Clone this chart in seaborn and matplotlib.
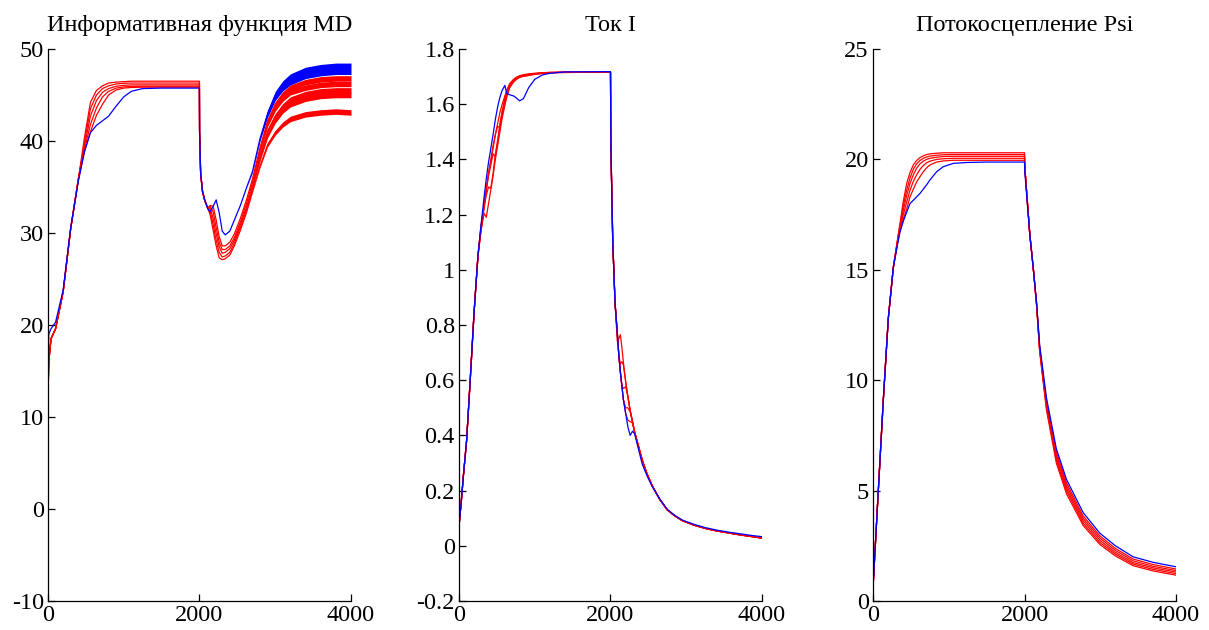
import numpy as np
import pandas as pd
import matplotlib
matplotlib.use("Agg")
import matplotlib.pyplot as plt
import seaborn as sns

# ---------------- data ----------------
titles = ["Информативная функция MD", "Ток I", "Потокосцепление Psi"]

# Panel 1: MD
md_x = [0, 10, 40, 100, 200, 300, 400, 480, 560, 640,
        720, 800, 900, 1000, 1100, 1250, 1500, 1999, 2001, 2015,
        2040, 2070, 2110, 2140, 2180, 2220, 2260, 2300, 2340, 2400,
        2460, 2540, 2620, 2700, 2800, 2900, 3000, 3100, 3200, 3400,
        3600, 3800, 4000]
md_blue = [12.0, 19.0, 19.6, 20.3, 23.8, 30.6, 35.6, 38.8, 40.9, 41.7,
           42.2, 42.7, 43.8, 44.8, 45.4, 45.7, 45.75, 45.75, 41.0, 36.5,
           34.5, 33.6, 32.6, 32.3, 32.9, 33.6, 32.2, 30.2, 29.8, 30.2,
           31.4, 33.0, 34.9, 36.7, 40.3, 43.0, 44.9, 46.0, 46.7, 47.4,
           47.7, 47.85, 47.85]
md_red_rows = [
    [12.0] * 5, [16.0] * 5, [18.5] * 5, [19.6] * 5, [23.6] * 5, [30.5] * 5, [35.8] * 5,
    [40.3, 39.8, 39.4, 39.0, 38.8],
    [44.2, 43.5, 42.7, 41.8, 41.0],
    [45.5, 45.0, 44.4, 43.6, 42.8],
    [46.0, 45.7, 45.3, 44.8, 44.0],
    [46.3, 46.0, 45.7, 45.4, 45.0],
    [46.4, 46.2, 45.95, 45.75, 45.55],
    [46.45, 46.27, 46.05, 45.88, 45.75],
    [46.5, 46.3, 46.1, 45.93, 45.82],
    [46.5, 46.3, 46.1, 45.95, 45.85],
    [46.5, 46.3, 46.1, 45.95, 45.85],
    [46.5, 46.3, 46.1, 45.95, 45.85],
    [41.0] * 5, [36.5] * 5, [34.5] * 5, [33.5] * 5, [32.7] * 5,
    [33.0, 32.9, 32.7, 32.4, 32.0],
    [32.9, 32.3, 31.6, 30.9, 30.3],
    [31.4, 30.6, 29.9, 29.2, 28.6],
    [29.6, 29.0, 28.5, 27.9, 27.3],
    [28.6, 28.2, 27.8, 27.4, 27.1],
    [28.6, 28.2, 27.9, 27.5, 27.2],
    [29.0, 28.6, 28.3, 27.9, 27.6],
    [29.9, 29.5, 29.2, 28.9, 28.6],
    [31.6, 31.2, 30.9, 30.6, 30.3],
    [33.6, 33.2, 32.8, 32.5, 32.2],
    [35.9, 35.5, 35.1, 34.8, 34.5],
    [39.3, 38.9, 38.4, 38.0, 37.3],
    [42.2, 41.8, 41.1, 40.6, 39.6],
    [44.0, 43.5, 42.7, 42.2, 40.9],
    [45.1, 44.6, 43.8, 43.3, 41.8],
    [45.8, 45.3, 44.5, 44.0, 42.4],
    [46.4, 45.8, 45.1, 44.6, 42.9],
    [46.7, 46.1, 45.4, 44.9, 43.1],
    [46.8, 46.2, 45.5, 45.0, 43.2],
    [46.8, 46.2, 45.5, 45.0, 43.1],
]
# half-width of the noisy band (end of the run)
md_noise_blue = [0] * 33 + [0.1, 0.25, 0.4, 0.5, 0.55, 0.6, 0.62, 0.62, 0.62, 0.62]
md_noise_red = [0] * 33 + [0.06, 0.15, 0.22, 0.26, 0.28, 0.3, 0.3, 0.3, 0.3, 0.3]

# Panel 2: current I
i_x = [0, 30, 60, 100, 150, 200, 250, 290, 330, 360,
       390, 420, 450, 480, 510, 540, 570, 605, 630, 670,
       720, 760, 800, 850, 920, 1000, 1100, 1200, 1400, 2000,
       2005, 2030, 2060, 2090, 2110, 2130, 2150, 2170, 2200, 2230,
       2260, 2290, 2320, 2360, 2420, 2480, 2550, 2650, 2750, 2850,
       2950, 3100, 3250, 3400, 3550, 3700, 3850, 4000]
i_blue = [0.07, 0.16, 0.26, 0.38, 0.61, 0.85, 1.05, 1.16, 1.26, 1.33,
          1.39, 1.44, 1.49, 1.545, 1.59, 1.625, 1.65, 1.668, 1.640, 1.634,
          1.630, 1.622, 1.612, 1.620, 1.660, 1.690, 1.706, 1.712, 1.717, 1.718,
          1.45, 1.10, 0.88, 0.77, 0.69, 0.63, 0.58, 0.53, 0.48, 0.43,
          0.40, 0.415, 0.405, 0.36, 0.295, 0.255, 0.215, 0.17, 0.132, 0.11,
          0.093, 0.078, 0.066, 0.057, 0.05, 0.044, 0.038, 0.033]
i_red_rows = [
    [0.07] * 5, [0.16] * 5, [0.26] * 5, [0.38] * 5, [0.61] * 5, [0.85] * 5, [1.05] * 5,
    [1.14, 1.14, 1.15, 1.15, 1.16],
    [1.205, 1.22, 1.23, 1.23, 1.23],
    [1.19, 1.27, 1.29, 1.29, 1.29],
    [1.24, 1.30, 1.34, 1.35, 1.35],
    [1.29, 1.295, 1.38, 1.40, 1.39],
    [1.34, 1.35, 1.42, 1.45, 1.44],
    [1.40, 1.42, 1.41, 1.49, 1.49],
    [1.45, 1.47, 1.46, 1.52, 1.53],
    [1.50, 1.52, 1.53, 1.515, 1.57],
    [1.55, 1.56, 1.575, 1.57, 1.60],
    [1.595, 1.605, 1.615, 1.62, 1.63],
    [1.625, 1.635, 1.64, 1.645, 1.65],
    [1.66, 1.665, 1.668, 1.672, 1.675],
    [1.680, 1.684, 1.686, 1.688, 1.690],
    [1.690, 1.693, 1.695, 1.697, 1.698],
    [1.697, 1.699, 1.701, 1.702, 1.703],
    [1.701, 1.702, 1.704, 1.705, 1.707],
    [1.704, 1.705, 1.707, 1.708, 1.710],
    [1.708, 1.709, 1.710, 1.711, 1.712],
    [1.711, 1.712, 1.713, 1.714, 1.714],
    [1.714, 1.714, 1.715, 1.715, 1.715],
    [1.715, 1.715, 1.716, 1.716, 1.716],
    [1.716] * 5,
    [1.45] * 5, [1.10] * 5, [0.88] * 5,
    [0.74, 0.77, 0.77, 0.77, 0.77],
    [0.75, 0.69, 0.69, 0.69, 0.69],
    [0.765, 0.66, 0.63, 0.63, 0.63],
    [0.72, 0.667, 0.58, 0.58, 0.58],
    [0.665, 0.655, 0.57, 0.53, 0.53],
    [0.595, 0.595, 0.576, 0.50, 0.48],
    [0.54, 0.54, 0.54, 0.50, 0.455],
    [0.49, 0.49, 0.49, 0.485, 0.45],
    [0.45, 0.45, 0.45, 0.45, 0.445],
    [0.41] * 5, [0.37] * 5, [0.31] * 5, [0.262] * 5, [0.218] * 5, [0.168] * 5,
    [0.130] * 5, [0.108] * 5, [0.091] * 5, [0.075] * 5, [0.063] * 5, [0.054] * 5,
    [0.047] * 5, [0.040] * 5, [0.034] * 5, [0.028] * 5,
]

# Panel 3: flux linkage Psi
psi_x = [0, 5, 70, 136, 202, 268, 320, 356, 400, 444,
         488, 532, 576, 620, 664, 708, 752, 840, 928, 1060,
         1236, 1500, 2000, 2005, 2070, 2115, 2160, 2200, 2290, 2420,
         2555, 2775, 2995, 3200, 3434, 3700, 4000]
psi_blue = [0.0, 0.9, 5.0, 9.1, 12.8, 15.1, 16.1, 16.7, 17.2, 17.6,
            18.0, 18.15, 18.3, 18.46, 18.65, 18.85, 19.07, 19.44, 19.67, 19.82,
            19.86, 19.88, 19.88, 19.4, 16.6, 15.1, 13.5, 11.6, 9.2, 6.9,
            5.5, 4.0, 3.07, 2.5, 2.0, 1.75, 1.55]
psi_red_rows = [
    [0.0] * 5, [0.9] * 5, [5.0] * 5, [9.1] * 5, [12.8] * 5, [15.1] * 5,
    [16.3, 16.25, 16.2, 16.15, 16.1],
    [17.1, 17.0, 16.95, 16.85, 16.8],
    [18.1, 17.9, 17.7, 17.5, 17.3],
    [18.9, 18.6, 18.35, 18.05, 17.75],
    [19.4, 19.15, 18.9, 18.6, 18.3],
    [19.75, 19.55, 19.3, 19.0, 18.65],
    [19.95, 19.8, 19.6, 19.3, 18.98],
    [20.08, 19.95, 19.8, 19.55, 19.22],
    [20.16, 20.05, 19.92, 19.72, 19.44],
    [20.22, 20.11, 20.0, 19.85, 19.62],
    [20.25, 20.15, 20.05, 19.92, 19.75],
    [20.28, 20.19, 20.1, 20.0, 19.88],
    [20.3, 20.21, 20.13, 20.03, 19.93],
    [20.3, 20.22, 20.14, 20.05, 19.96],
    [20.3, 20.22, 20.14, 20.05, 19.96],
    [20.3, 20.22, 20.14, 20.05, 19.96],
    [20.3, 20.22, 20.14, 20.05, 19.96],
    [19.6] * 5, [16.6] * 5, [15.1] * 5, [13.4] * 5,
    [11.5, 11.45, 11.4, 11.35, 11.3],
    [9.05, 8.95, 8.85, 8.75, 8.65],
    [6.75, 6.62, 6.5, 6.38, 6.25],
    [5.35, 5.22, 5.1, 4.98, 4.85],
    [3.85, 3.74, 3.63, 3.52, 3.42],
    [2.95, 2.85, 2.75, 2.65, 2.56],
    [2.38, 2.29, 2.2, 2.12, 2.04],
    [1.9, 1.82, 1.74, 1.67, 1.6],
    [1.65, 1.57, 1.5, 1.43, 1.36],
    [1.45, 1.38, 1.31, 1.24, 1.17],
]

ylims = [(-10, 50), (-0.2, 1.8), (0, 25)]
yticks = [list(range(-10, 51, 10)),
          [-0.2, 0, 0.2, 0.4, 0.6, 0.8, 1, 1.2, 1.4, 1.6, 1.8],
          [0, 5, 10, 15, 20, 25]]
ytick_labels = [[str(v) for v in yticks[0]],
                ["-0.2", "0", "0.2", "0.4", "0.6", "0.8", "1", "1.2", "1.4", "1.6", "1.8"],
                [str(v) for v in yticks[2]]]
xticks = [0, 2000, 4000]

# ---------------- style ----------------
sns.set_theme(style="white")
plt.rcParams["font.family"] = ["Liberation Serif", "DejaVu Serif"]
plt.rcParams["axes.unicode_minus"] = False

RED = "#ff0000"
BLUE = "#0000ff"
LW = 0.9

fig = plt.figure(figsize=(12.09, 6.30), dpi=100)
lefts = [48 / 1209, 459 / 1209, 873 / 1209]
width = 303 / 1209
bottom = 29 / 630
height = 552 / 630

panels = [
    (md_x, md_blue, md_red_rows),
    (i_x, i_blue, i_red_rows),
    (psi_x, psi_blue, psi_red_rows),
]

for k, (xs, blue, red_rows) in enumerate(panels):
    ax = fig.add_axes([lefts[k], bottom, width, height])
    reds = np.array(red_rows, dtype=float).T
    frames = []
    order = []
    for j, r in enumerate(reds):
        name = f"r{j}"
        order.append(name)
        frames.append(pd.DataFrame({"x": xs, "y": r, "s": name}))
    frames.append(pd.DataFrame({"x": xs, "y": blue, "s": "b"}))
    order.append("b")
    df = pd.concat(frames, ignore_index=True)
    pal = {n: (BLUE if n == "b" else RED) for n in order}

    if k == 0:
        xa = np.array(xs, float)
        for r in reds:
            hw = np.array(md_noise_red)
            ax.fill_between(xa, r - hw, r + hw, color=RED, lw=0)
        hb = np.array(md_noise_blue)
        bb = np.array(blue)
        ax.fill_between(xa, bb - hb, bb + hb, color=BLUE, lw=0)

    sns.lineplot(data=df, x="x", y="y", hue="s", hue_order=order, palette=pal,
                 estimator=None, sort=False, legend=False, linewidth=LW, ax=ax)

    ax.set_xlim(0, 4000)
    ax.set_ylim(*ylims[k])
    ax.set_xticks(xticks)
    ax.set_xticklabels([str(v) for v in xticks])
    ax.set_yticks(yticks[k])
    ax.set_yticklabels(ytick_labels[k])
    ax.set_xlabel("")
    ax.set_ylabel("")
    ax.set_title(titles[k], fontsize=17.5, pad=13, color="black")
    for s in ["top", "right"]:
        ax.spines[s].set_visible(False)
    for s in ["left", "bottom"]:
        ax.spines[s].set_color("black")
        ax.spines[s].set_linewidth(0.9)
    ax.tick_params(axis="both", direction="in", length=5, width=0.9, color="black",
                   labelsize=17.5, labelcolor="black", pad=3,
                   left=True, bottom=True, right=False, top=False)
    ax.set_facecolor("white")

fig.savefig("out.png", dpi=100, facecolor="white")
